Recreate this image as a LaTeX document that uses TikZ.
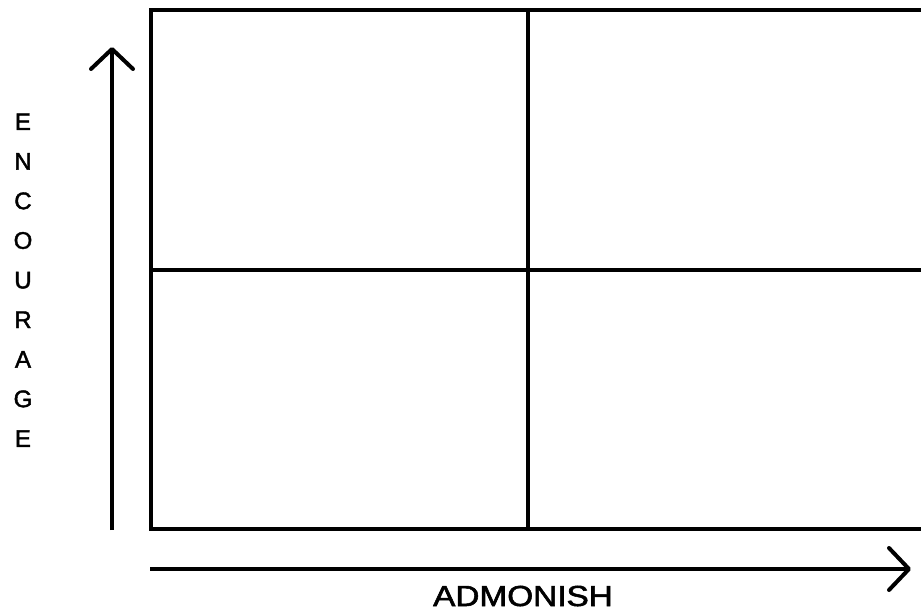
\documentclass[tikz,border=0pt]{standalone}
\usepackage{fontspec}
\setmainfont{Liberation Sans}
\newfontfamily\lblfont[FakeBold=1.8]{Liberation Sans}
\usetikzlibrary{arrows.meta}
\begin{document}
\begin{tikzpicture}[x=1pt,y=-1pt,
  frame/.style={line width=3.2pt},
  axis/.style={line width=3.2pt,-{Straight Barb[length=20pt,width=42pt,line width=4pt,round]}},
  vlab/.style={anchor=base,inner sep=0pt,font=\lblfont\fontsize{24}{28}\selectfont},
  hlab/.style={anchor=base,inner sep=0pt,font=\lblfont\fontsize{29}{34}\selectfont}]
\useasboundingbox (0,0) rectangle (921,612);
% grid
\coordinate (tl) at (151,10);
\coordinate (br) at (925,529);
\draw[frame] (tl) rectangle (br);
\coordinate (mt) at (528,10);
\coordinate (mb) at (528,529);
\draw[frame] (mt) -- (mb);
\coordinate (ml) at (151,270);
\coordinate (mr) at (925,270);
\draw[frame] (ml) -- (mr);
% axes
\coordinate (vs) at (112,530);
\coordinate (ve) at (112,47);
\draw[axis] (vs) -- (ve);
\coordinate (hs) at (150,569);
\coordinate (he) at (911,569);
\draw[axis] (hs) -- (he);
% labels
\foreach \L [count=\i from 0] in {E,N,C,O,U,R,A,G,E}
  \node[vlab] (v\i) at (23,130+39.6*\i) {\L};
\node[hlab] (hl) at (523,606) {\scalebox{1.15}[1]{ADMONISH}};
\end{tikzpicture}
\end{document}
